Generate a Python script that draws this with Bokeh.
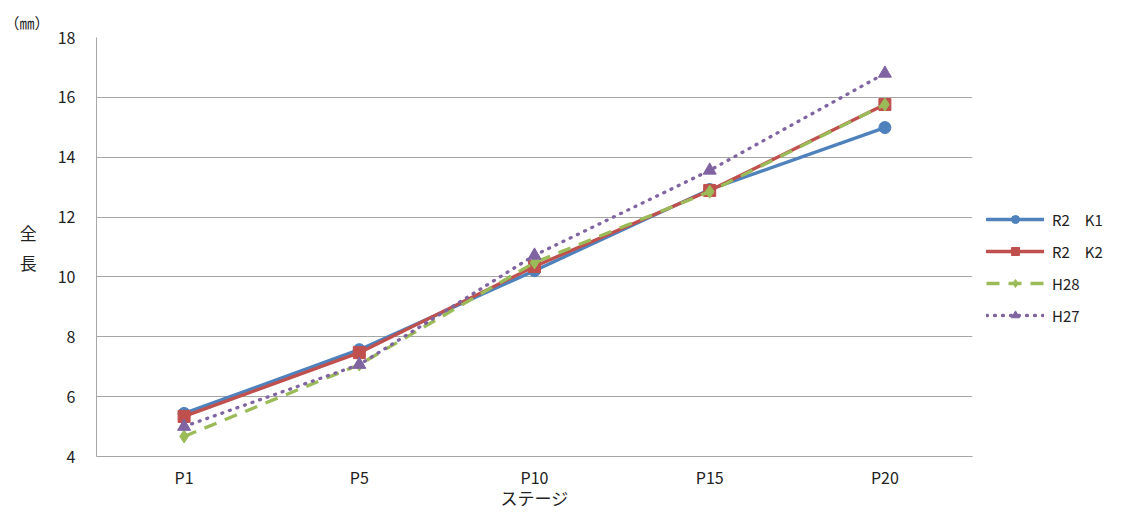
from bokeh.plotting import figure
from bokeh.models import FactorRange, Range1d, Legend, LegendItem, FixedTicker
from bokeh.embed import file_html
from bokeh.resources import INLINE

stages = ["P1", "P5", "P10", "P15", "P20"]
r2_k1 = [5.44, 7.57, 10.21, 12.92, 14.99]
r2_k2 = [5.34, 7.47, 10.35, 12.89, 15.76]
h28 = [4.67, 7.07, 10.48, 12.85, 15.76]
h27 = [5.00, 7.07, 10.72, 13.56, 16.80]
y_ticks = [4, 6, 8, 10, 12, 14, 16, 18]
series_names = ["R2\u3000K1", "R2\u3000K2", "H28", "H27"]

FONT = "Noto Sans CJK JP"

p = figure(frame_width=876, frame_height=419, x_range=FactorRange(*stages, range_padding=0),
           y_range=Range1d(4, 18), output_backend="svg", toolbar_location=None,
           min_border_left=96, min_border_right=151, min_border_top=37, min_border_bottom=50,
           title="（㎜）")
p.outline_line_color = None
p.background_fill_color = "white"
p.title.text_font = FONT
p.title.text_font_size = "15px"
p.title.text_font_style = "normal"
p.title.text_color = "#222222"
p.title.align = "left"
p.title.offset = -92
p.title.standoff = 9

p.yaxis.ticker = FixedTicker(ticks=y_ticks)
for ax in (p.xaxis, p.yaxis):
    ax.major_tick_line_color = None
    ax.minor_tick_line_color = None
    ax.axis_line_color = "#A6A6A6"
    ax.axis_line_width = 1
    ax.major_label_text_font = FONT
    ax.major_label_text_font_size = "16px"
    ax.major_label_text_color = "#222222"
p.yaxis.major_label_standoff = 15
p.yaxis.axis_label = "全\n長"
p.yaxis.axis_label_orientation = "horizontal"
p.yaxis.axis_label_text_font = FONT
p.yaxis.axis_label_text_font_size = "17px"
p.yaxis.axis_label_text_font_style = "normal"
p.yaxis.axis_label_text_color = "#222222"
p.yaxis.axis_label_standoff = 18
p.xaxis.major_label_standoff = 2
p.xaxis.axis_label = "ステージ"
p.xaxis.axis_label_text_font = FONT
p.xaxis.axis_label_text_font_size = "17px"
p.xaxis.axis_label_text_font_style = "normal"
p.xaxis.axis_label_standoff = -7
p.xaxis.axis_label_text_color = "#222222"
p.xgrid.grid_line_color = None
p.ygrid.grid_line_color = "#A6A6A6"
p.ygrid.grid_line_width = 1

colors = ["#4F81BD", "#C0504D", "#9BBB59", "#8064A2"]
dashes = ["solid", "solid", "13 9", "1 7"]
caps = ["round", "round", "butt", "round"]
markers = ["circle", "square", "diamond", "triangle"]
msizes = [12, 12, 13, 13]
data = [r2_k1, r2_k2, h28, h27]
items = []
for name, vals, c, d, cap, m, s in zip(series_names, data, colors, dashes, caps, markers, msizes):
    ln = p.line(stages, vals, line_color=c, line_width=3.3, line_dash=d, line_cap=cap)
    sc = p.scatter(stages, vals, marker=m, size=s, fill_color=c, line_color=c)
    items.append(LegendItem(label=name, renderers=[ln, sc]))

legend = Legend(items=items, location="center_left", glyph_width=58, glyph_height=20,
                label_text_font=FONT, label_text_font_size="15px", label_text_color="#222222",
                spacing=11, padding=4, margin=14, border_line_color=None, background_fill_alpha=0,
                label_standoff=8, title="\u3000", title_text_font_size="15px", title_standoff=22)
p.add_layout(legend, "right")

out = file_html(p, INLINE)
open("out.html", "w").write(out)
